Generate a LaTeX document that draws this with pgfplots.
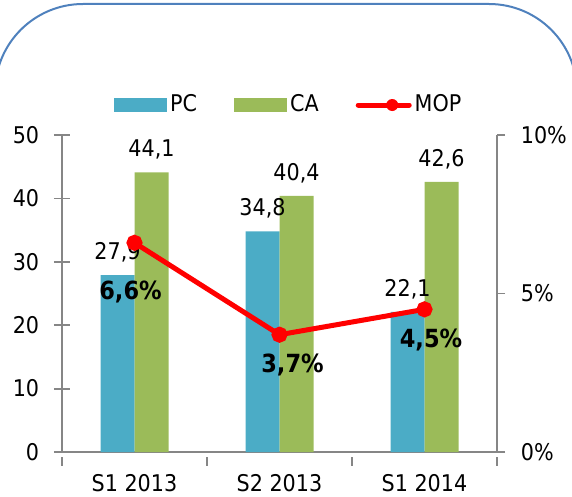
\documentclass[border=0pt]{standalone}
\usepackage{pgfplots}
\pgfplotsset{compat=1.18}
\usepackage{pgfplotstable}
\usepackage{fontspec}
\setmainfont{DejaVu Sans Condensed}
\definecolor{pc}{HTML}{4BACC6}
\definecolor{ca}{HTML}{9BBB59}
\definecolor{mop}{HTML}{FF0000}
\definecolor{axisgray}{HTML}{868686}
\definecolor{border}{HTML}{4F81BD}
\pgfplotsset{/pgf/number format/assume math mode=true}
\newcommand{\lbl}{\fontsize{23pt}{27pt}\selectfont}
\pgfplotstableread{
x y
0 27.9
1 34.8
2 22.1
}\pcdata
\pgfplotstableread{
x y
0 44.1
1 40.4
2 42.6
}\cadata
\pgfplotstableread{
x y dx dy
0 6.6 -4 -49
1 3.7 13 -30
2 4.5 6.5 -31
}\mopdata
\begin{document}
\lbl
\begin{tikzpicture}
\draw[border, line width=2pt, rounded corners=88pt] (-5pt,-60pt) -- (-5pt,492pt) -- (577pt,492pt) -- (577pt,-60pt);
\begin{axis}[
  at={(62pt,44pt)}, anchor=south west, scale only axis,
  width=435pt, height=317pt,
  xmin=-0.5, xmax=2.5, ymin=0, ymax=50,
  ytick={0,10,20,30,40,50},
  xtick={0,1,2}, xticklabels={S1 2013,S2 2013,S1 2014},
  major x tick style={draw=none},
  minor xtick={-0.5,0.5,1.5,2.5},
  minor tick length=9pt,
  minor x tick style={yshift=-4.5pt},
  major tick length=16pt,
  tick align=center,
  axis x line*=bottom, axis y line*=left,
  axis line style={-, axisgray, line width=1.8pt},
  tick style={axisgray, line width=1.8pt},
  ticklabel style={font=\lbl},
  xticklabel style={yshift=1pt},
  yticklabel style={xshift=-7pt},
  ybar=0pt, bar width=34pt,
  nodes near coords,
  nodes near coords style={font=\lbl, text=black, yshift=5pt,
    /pgf/number format/.cd, fixed, fixed zerofill, precision=1, use comma},
  legend style={at={(0.1195,1.0946)}, anchor=west, draw=none, fill=none,
    inner sep=0pt, nodes={inner sep=0pt},
    legend columns=3, font=\lbl,
    /tikz/every odd column/.append style={column sep=3pt},
    /tikz/every even column/.append style={column sep=37pt},
    cells={anchor=west}},
]
\addplot[fill=pc, draw=none,
  legend image code/.code={\fill[pc] (0pt,-7pt) rectangle (53pt,7pt);}]
  table[x=x,y=y] {\pcdata};
\addlegendentry{PC}
\addplot[fill=ca, draw=none,
  legend image code/.code={\fill[ca] (0pt,-7pt) rectangle (53pt,7pt);}]
  table[x=x,y=y] {\cadata};
\addlegendentry{CA}
\addlegendimage{mop, line width=5pt,
  legend image code/.code={\draw[mop, line width=5pt, line cap=round] (2.5pt,0pt) -- (53.5pt,0pt) node[midway, circle, fill=mop, draw=none, inner sep=0pt, minimum size=12pt] {};}}
\addlegendentry{MOP}
\end{axis}
\begin{axis}[
  at={(62pt,44pt)}, anchor=south west, scale only axis,
  width=435pt, height=317pt,
  xmin=-0.5, xmax=2.5, ymin=0, ymax=10,
  ytick={0,5,10}, yticklabel={\pgfmathprintnumber{\tick}\%},
  hide x axis,
  axis y line*=right,
  axis line style={-, axisgray, line width=1.8pt},
  tick style={axisgray, line width=1.8pt},
  major tick length=8pt, tick align=outside,
  ticklabel style={font=\lbl},
  yticklabel style={xshift=8pt},
]
\addplot[mop, line width=5pt, mark=*, mark size=5.5pt,
  visualization depends on={\thisrow{dx} \as \dx},
  visualization depends on={\thisrow{dy} \as \dy},
  nodes near coords={\bfseries\pgfmathprintnumber[fixed,fixed zerofill,precision=1,use comma]{\pgfplotspointmeta}\%},
  nodes near coords style={anchor=center, text=black, font=\fontsize{25pt}{29pt}\selectfont\bfseries, xshift=\dx pt, yshift=\dy pt}]
  table[x=x,y=y] {\mopdata};
\end{axis}
\pgfresetboundingbox
\useasboundingbox (0pt,0pt) rectangle (572pt,496pt);
\end{tikzpicture}
\end{document}
